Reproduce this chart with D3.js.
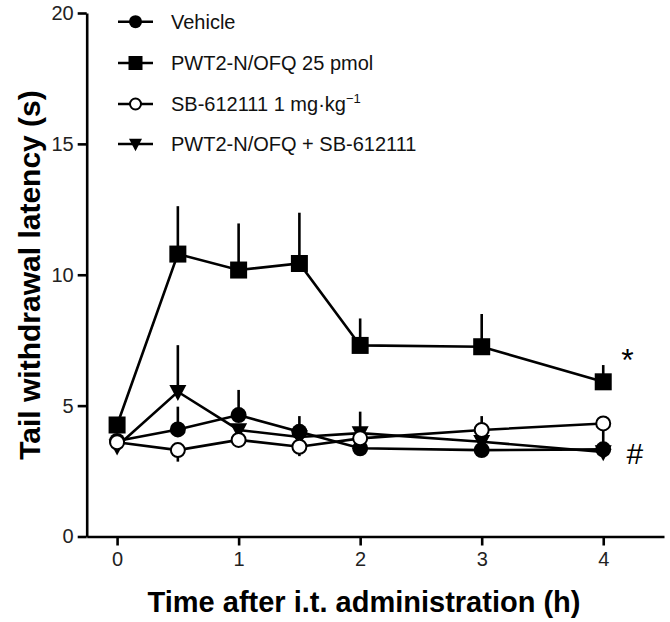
<!DOCTYPE html>
<html><head><meta charset="utf-8">
<script src="https://cdn.jsdelivr.net/npm/d3@7"></script>
<style>body{margin:0;background:#fff}svg{display:block}</style>
</head><body>
<script>
const times = [0, 0.5, 1, 1.5, 2, 3, 4];
const vehicle = [3.65, 4.09, 4.64, 4.0, 3.37, 3.30, 3.33];
const vehicleErr = [null, 4.96, 5.6, 4.6, null, null, null];
const pwt2 = [4.26, 10.79, 10.18, 10.43, 7.30, 7.25, 5.91];
const pwt2Err = [null, 12.62, 11.96, 12.37, 8.33, 8.5, 6.55];
const sb = [3.6, 3.30, 3.69, 3.43, 3.75, 4.07, 4.32];
const sbErr = [null, 2.86, null, 3.07, null, 4.6, 3.6];
const combo = [3.45, 5.53, 4.07, 3.8, 3.95, 3.62, 3.23];
const comboErr = [null, 7.31, null, null, 4.77, null, null];
const xTicks = [0, 1, 2, 3, 4];
const yTicks = [0, 5, 10, 15, 20];
const legendLabels = ["Vehicle", "PWT2-N/OFQ 25 pmol", "SB-612111 1 mg·kg", "PWT2-N/OFQ + SB-612111"];
const annotations = [{t: 4.2, v: 7.05, s: "*"}, {t: 4.26, v: 3.2, s: "#"}];

const W = 670, H = 622;
const svg = d3.select("body").append("svg").attr("width", W).attr("height", H);
const x = d3.scaleLinear().domain([-0.25, 4.5]).range([86.7, 664]);
const y = d3.scaleLinear().domain([0, 20]).range([536.5, 13]);

const font = "Arial, 'Liberation Sans', Helvetica, sans-serif";

// axes
const ya = svg.append("g").attr("transform", `translate(${x(-0.25)},0)`)
  .call(d3.axisLeft(y).tickValues(yTicks).tickFormat(d3.format("d")).tickSize(9).tickSizeOuter(0).tickPadding(4));
const xa = svg.append("g").attr("transform", `translate(0,${y(0)})`)
  .call(d3.axisBottom(x).tickValues(xTicks).tickFormat(d3.format("d")).tickSize(9).tickSizeOuter(0).tickPadding(6));
[ya, xa].forEach(g => {
  g.selectAll("path,line").attr("stroke", "#000").attr("stroke-width", 2.6);
  g.selectAll("text").attr("font-family", font).attr("font-size", 20).attr("fill", "#222");
});

// titles
svg.append("text").attr("x", 364).attr("y", 612).attr("text-anchor", "middle")
  .attr("font-family", font).attr("font-weight", "bold").attr("font-size", 29)
  .text("Time after i.t. administration (h)");
svg.append("text").attr("transform", `translate(40,${275}) rotate(-90)`).attr("text-anchor", "middle")
  .attr("font-family", font).attr("font-weight", "bold").attr("font-size", 30)
  .text("Tail withdrawal latency (s)");

function marker(g, type, size, cx, cy) {
  if (type === "circle") {
    g.append("circle").attr("cx", cx).attr("cy", cy).attr("r", size / 2)
      .attr("fill", "#000");
  } else if (type === "open") {
    g.append("circle").attr("cx", cx).attr("cy", cy).attr("r", size / 2 - 1)
      .attr("fill", "#fff").attr("stroke", "#000").attr("stroke-width", 2);
  } else if (type === "square") {
    g.append("rect").attr("x", cx - size / 2).attr("y", cy - size / 2)
      .attr("width", size).attr("height", size).attr("fill", "#000");
  } else if (type === "tri") {
    const s = size;
    g.append("path").attr("d", `M${cx - s / 2},${cy - s * 0.4}L${cx + s / 2},${cy - s * 0.4}L${cx},${cy + s * 0.55}Z`)
      .attr("fill", "#000");
  }
}

const series = [
  {vals: combo, err: comboErr, type: "tri", size: 17},
  {vals: vehicle, err: vehicleErr, type: "circle", size: 16},
  {vals: sb, err: sbErr, type: "open", size: 16},
  {vals: pwt2, err: pwt2Err, type: "square", size: 17}
];

const line = d3.line().x(d => x(d[0])).y(d => y(d[1]));
series.forEach(s => {
  const g = svg.append("g");
  s.err.forEach((e, i) => {
    if (e == null) return;
    g.append("line").attr("x1", x(times[i])).attr("x2", x(times[i]))
      .attr("y1", y(s.vals[i])).attr("y2", y(e))
      .attr("stroke", "#000").attr("stroke-width", 2.6);
  });
  g.append("path").datum(times.map((t, i) => [t, s.vals[i]])).attr("d", line)
    .attr("fill", "none").attr("stroke", "#000").attr("stroke-width", 2.6);
  times.forEach((t, i) => marker(g, s.type, s.size, x(t), y(s.vals[i])));
});

// legend
const legendOrder = [1, 3, 2, 0];
const legendY = [21.7, 63, 104, 144];
legendLabels.forEach((lab, i) => {
  const s = series[legendOrder[i]];
  const g = svg.append("g");
  const ly = legendY[i];
  g.append("line").attr("x1", 118).attr("x2", 153).attr("y1", ly).attr("y2", ly)
    .attr("stroke", "#000").attr("stroke-width", 2.6);
  marker(g, s.type, s.type === "square" ? 14 : 13, 135.5, ly);
  const t = g.append("text").attr("x", 171).attr("y", ly).attr("dy", "0.36em")
    .attr("font-family", font).attr("font-size", 20).attr("fill", "#111").text(lab);
  if (i === 2) t.append("tspan").attr("font-size", 13).attr("dy", "-0.6em").text("−1");
});

annotations.forEach(a => {
  svg.append("text").attr("x", x(a.t)).attr("y", y(a.v)).attr("dy", a.s === "*" ? "0.6em" : "0.36em")
    .attr("text-anchor", "middle").attr("font-family", font)
    .attr("font-size", a.s === "*" ? 32 : 30).attr("fill", "#000").text(a.s);
});
</script>
</body></html>
